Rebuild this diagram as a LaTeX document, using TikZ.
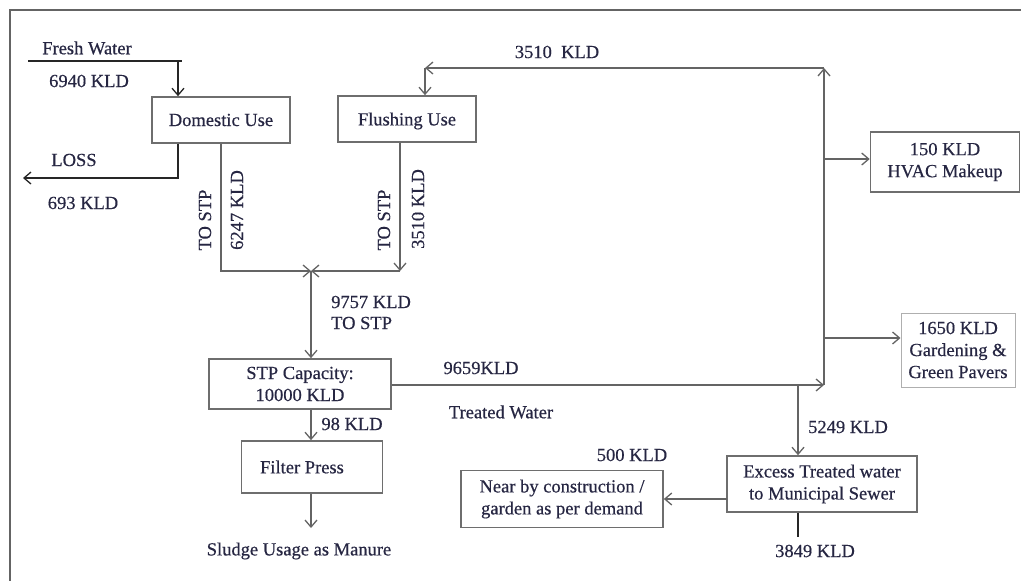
\documentclass[tikz,border=0pt]{standalone}
\usepackage{fontspec}
\setmainfont{Liberation Serif}[FakeBold=0.5]
\usetikzlibrary{arrows.meta}
\definecolor{txt}{RGB}{38,38,66}
\definecolor{ln}{RGB}{100,100,100}
\definecolor{bx}{RGB}{110,110,110}
\definecolor{lbx}{RGB}{175,175,175}
\tikzset{
  box/.style={draw=bx, line width=1.6pt, inner sep=0pt, align=center, text=txt,
     font=\fontsize{18.5}{22}\selectfont},
  lbl/.style={inner sep=0pt, text=txt, font=\fontsize{18.5}{22}\selectfont, align=center},
  conn/.style={draw=ln, line width=1.5pt},
  blk/.style={draw=black!85, line width=1.5pt},
  arr/.style={-{Straight Barb[length=7pt,width=12pt,line width=1.3pt]}},
  frame/.style={draw=ln, line width=1.6pt}
}
\begin{document}
\begin{tikzpicture}[x=1pt,y=-1pt]
\useasboundingbox (0,0) rectangle (1021,581);
\draw[frame] (10,581) -- (10,10) -- (1021,10);

% boxes
\node[box, minimum width=138pt, minimum height=46pt] (dom) at (221,120) {Domestic Use};
\node[box, minimum width=138pt, minimum height=46pt, text depth=0pt] (flush) at (407,119) {Flushing Use};
\node[box, minimum width=182pt, minimum height=50pt] (stp) at (300,384) {STP Capacity:\\10000 KLD};
\node[box, minimum width=141pt, minimum height=52pt] (fp) at (312,467) {Filter Press\hspace*{20pt}};
\node[box, minimum width=149pt, minimum height=60pt] (hvac) at (945,162) {150 KLD\\HVAC Makeup};
\node[box, draw=lbx, line width=1pt, minimum width=114pt, minimum height=74pt] (gard) at (958,350) {1650 KLD\\Gardening \&\\Green Pavers};
\node[box, minimum width=190pt, minimum height=56pt] (exc) at (822,484) {Excess Treated water\\to Municipal Sewer};
\node[box, minimum width=202pt, minimum height=57pt] (near) at (562,499) {Near by construction /\\garden as per demand};

% labels
\node[lbl] (fw) at (87,48) {Fresh Water};
\node[lbl] (fwq) at (89,81) {6940 KLD};
\node[lbl] (loss) at (74,160) {LOSS};
\node[lbl] (lossq) at (83,203) {693 KLD};
\node[lbl, rotate=90] (ts1) at (205,220) {TO STP};
\node[lbl, rotate=90] (q1) at (237,210) {6247 KLD};
\node[lbl, rotate=90] (ts2) at (384,220) {TO STP};
\node[lbl, rotate=90] (q2) at (418,209) {3510 KLD};
\node[lbl, anchor=west] (q3) at (331,302) {9757 KLD};
\node[lbl, anchor=west] (ts3) at (331,323) {TO STP};
\node[lbl] (q4) at (352,424) {98 KLD};
\node[lbl] (sludge) at (299,551) {Sludge Usage as Manure};
\node[lbl] (q5) at (481,368) {9659KLD};
\node[lbl] (tw) at (501,412) {Treated Water};
\node[lbl] (q6) at (557,52) {3510\ \ KLD};
\node[lbl] (q7) at (848,427) {5249 KLD};
\node[lbl] (q8) at (632,455) {500 KLD};
\node[lbl] (q9) at (815,551) {3849 KLD};

% coordinates
\coordinate (fwL) at (28,61);
\coordinate (fwR) at (182,61);
\coordinate (fwA) at (178,61);
\coordinate (lossE) at (23,178);
\coordinate (jn) at (311,271);
\coordinate (fl1) at (400,271);
\coordinate (sl) at (311,528);
\coordinate (tr) at (824,385);
\coordinate (tt) at (824,68);
\coordinate (tl) at (425,68);
\coordinate (ha) at (824,159);
\coordinate (ga) at (824,338);
\coordinate (ex0) at (798,385);
\coordinate (na) at (727,499);
\coordinate (ex1) at (798,537);

% connectors
\draw[blk] (fwL) -- (fwR);
\draw[blk,arr] (fwA) -- (fwA |- dom.north);
\draw[blk,arr] (fwA |- dom.south) |- (lossE);
\draw[conn,arr] (dom.south) |- (jn);
\draw[conn,arr] (flush.south -| fl1) -- (fl1);
\draw[conn,arr] (fl1) -- (jn);
\draw[conn,arr] (jn) -- (jn |- stp.north);
\draw[conn,arr] (stp.south -| jn) -- (fp.north -| jn);
\draw[conn,arr] (fp.south -| jn) -- (sl);
\draw[conn,arr] (stp.east |- tr) -- (tr);
\draw[conn,arr] (tr) -- (tt);
\draw[conn,arr] (tt) -- (tl);
\draw[conn,arr] (tl) -- (tl |- flush.north);
\draw[conn,arr] (ha) -- (ha -| hvac.west);
\draw[conn,arr] (ga) -- (ga -| gard.west);
\draw[conn,arr] (ex0) -- (ex0 |- exc.north);
\draw[conn,arr] (na) -- (na -| near.east);
\draw[blk] (ex0 |- exc.south) -- (ex1);
\end{tikzpicture}
\end{document}
